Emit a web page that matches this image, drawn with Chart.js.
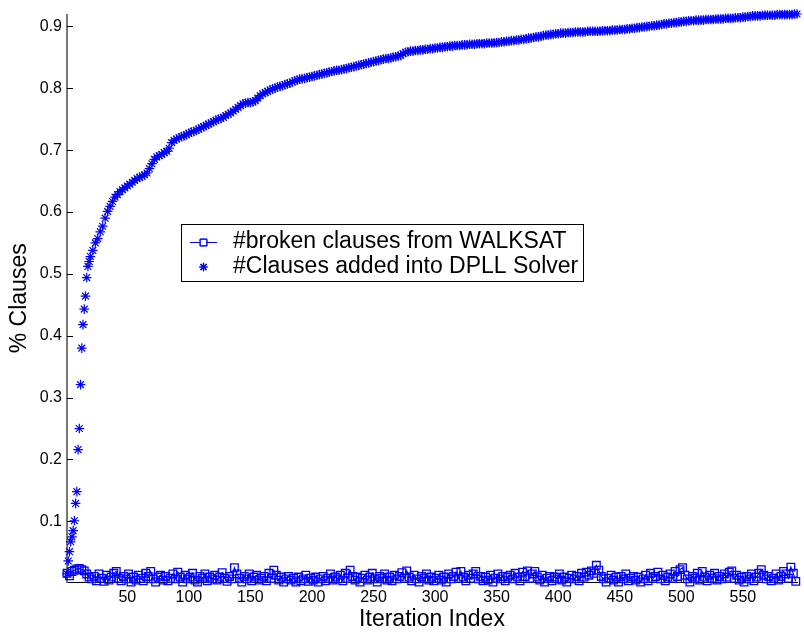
<!DOCTYPE html>
<html>
<head>
<meta charset="utf-8">
<title>% Clauses per iteration</title>
<script src="https://cdn.jsdelivr.net/npm/chart.js@4.4.0/dist/chart.umd.min.js"></script>
<style>
    html, body { margin: 0; padding: 0; background: #fff; }
    #wrap { width: 804px; height: 633px; }
</style>
</head>
<body>
<div id="wrap"><canvas id="clausesChart" width="804" height="633"></canvas></div>
<script>
// Tick labels
const xTickValues = [50, 100, 150, 200, 250, 300, 350, 400, 450, 500, 550];
const yTickValues = [0.1, 0.2, 0.3, 0.4, 0.5, 0.6, 0.7, 0.8, 0.9];

const seriesNames = ['#broken clauses from WALKSAT', '#Clauses added into DPLL Solver'];

// #Clauses added, iterations 1..20 (one value per iteration)
const addedEarly = [0.015, 0.036, 0.051, 0.067, 0.075, 0.085, 0.101, 0.129, 0.148, 0.216,
    0.250, 0.321, 0.380, 0.418, 0.443, 0.464, 0.494, 0.512, 0.520, 0.528];

// #Clauses added, iterations 22, 24, ..., 594
const addedLater = [
    0.538, 0.550, 0.557, 0.568, 0.577, 0.590, 0.601, 0.609, 0.617, 0.624,
    0.628, 0.633, 0.636, 0.639, 0.642, 0.645, 0.648, 0.651, 0.654, 0.656,
    0.658, 0.660, 0.663, 0.670, 0.678, 0.685, 0.689, 0.691, 0.693, 0.696,
    0.698, 0.703, 0.712, 0.716, 0.718, 0.720, 0.722, 0.723, 0.725, 0.727,
    0.729, 0.730, 0.732, 0.734, 0.736, 0.738, 0.740, 0.742, 0.744, 0.746,
    0.748, 0.750, 0.751, 0.753, 0.756, 0.758, 0.760, 0.763, 0.766, 0.769,
    0.772, 0.775, 0.776, 0.777, 0.777, 0.778, 0.780, 0.784, 0.788, 0.791,
    0.793, 0.795, 0.797, 0.799, 0.800, 0.802, 0.803, 0.804, 0.806, 0.807,
    0.808, 0.810, 0.812, 0.813, 0.815, 0.815, 0.816, 0.817, 0.818, 0.819,
    0.820, 0.821, 0.822, 0.823, 0.824, 0.825, 0.826, 0.827, 0.828, 0.829,
    0.829, 0.830, 0.831, 0.832, 0.833, 0.834, 0.835, 0.836, 0.837, 0.838,
    0.839, 0.840, 0.841, 0.842, 0.843, 0.844, 0.845, 0.846, 0.847, 0.848,
    0.848, 0.849, 0.850, 0.851, 0.852, 0.853, 0.856, 0.858, 0.859, 0.860,
    0.860, 0.861, 0.861, 0.862, 0.862, 0.863, 0.863, 0.864, 0.864, 0.865,
    0.865, 0.866, 0.866, 0.867, 0.867, 0.868, 0.868, 0.869, 0.869, 0.869,
    0.870, 0.870, 0.870, 0.871, 0.871, 0.871, 0.872, 0.872, 0.872, 0.872,
    0.873, 0.873, 0.873, 0.873, 0.874, 0.874, 0.875, 0.875, 0.876, 0.876,
    0.877, 0.877, 0.878, 0.878, 0.879, 0.879, 0.880, 0.881, 0.881, 0.882,
    0.883, 0.883, 0.884, 0.885, 0.886, 0.886, 0.887, 0.887, 0.888, 0.888,
    0.889, 0.889, 0.889, 0.890, 0.890, 0.890, 0.891, 0.891, 0.891, 0.891,
    0.891, 0.892, 0.892, 0.892, 0.892, 0.892, 0.892, 0.893, 0.893, 0.893,
    0.893, 0.894, 0.894, 0.894, 0.895, 0.895, 0.895, 0.896, 0.896, 0.897,
    0.897, 0.898, 0.898, 0.899, 0.899, 0.900, 0.900, 0.901, 0.901, 0.902,
    0.902, 0.903, 0.904, 0.904, 0.905, 0.905, 0.906, 0.906, 0.907, 0.907,
    0.908, 0.908, 0.909, 0.909, 0.909, 0.910, 0.910, 0.910, 0.910, 0.911,
    0.911, 0.911, 0.911, 0.912, 0.912, 0.912, 0.912, 0.913, 0.913, 0.913,
    0.913, 0.914, 0.914, 0.914, 0.915, 0.915, 0.916, 0.916, 0.917, 0.917,
    0.917, 0.917, 0.918, 0.918, 0.918, 0.918, 0.918, 0.918, 0.919, 0.919,
    0.919, 0.919, 0.919, 0.919, 0.919, 0.920, 0.920
];

// #broken clauses from WALKSAT, iterations 1, 3, ..., 593
const brokenValues = [
    0.016, 0.012, 0.019, 0.021, 0.023, 0.024, 0.022, 0.020, 0.015, 0.010,
    0.007, 0.011, 0.004, 0.015, 0.008, 0.003, 0.013, 0.005, 0.010, 0.016,
    0.019, 0.008, 0.004, 0.011, 0.007, 0.015, 0.002, 0.010, 0.005, 0.013,
    0.008, 0.004, 0.016, 0.011, 0.019, 0.007, 0.002, 0.010, 0.013, 0.005,
    0.011, 0.004, 0.008, 0.015, 0.007, 0.018, 0.010, 0.002, 0.013, 0.007,
    0.010, 0.016, 0.005, 0.002, 0.011, 0.008, 0.015, 0.004, 0.010, 0.007,
    0.013, 0.005, 0.010, 0.017, 0.008, 0.003, 0.011, 0.007, 0.025, 0.015,
    0.008, 0.002, 0.011, 0.007, 0.015, 0.004, 0.010, 0.013, 0.005, 0.008,
    0.011, 0.004, 0.016, 0.008, 0.021, 0.013, 0.005, 0.010, 0.002, 0.007,
    0.011, 0.005, 0.008, 0.002, 0.010, 0.004, 0.007, 0.013, 0.003, 0.008,
    0.005, 0.010, 0.002, 0.007, 0.011, 0.004, 0.008, 0.015, 0.005, 0.010,
    0.007, 0.013, 0.004, 0.016, 0.008, 0.021, 0.011, 0.005, 0.010, 0.002,
    0.008, 0.013, 0.005, 0.010, 0.016, 0.007, 0.002, 0.011, 0.008, 0.015,
    0.005, 0.010, 0.004, 0.013, 0.007, 0.011, 0.017, 0.008, 0.020, 0.010,
    0.004, 0.013, 0.007, 0.002, 0.011, 0.008, 0.015, 0.005, 0.010, 0.004,
    0.008, 0.013, 0.005, 0.010, 0.002, 0.015, 0.007, 0.011, 0.018, 0.008,
    0.019, 0.010, 0.004, 0.013, 0.008, 0.015, 0.019, 0.007, 0.011, 0.004,
    0.010, 0.005, 0.013, 0.002, 0.008, 0.015, 0.007, 0.011, 0.004, 0.010,
    0.013, 0.007, 0.016, 0.010, 0.004, 0.018, 0.011, 0.020, 0.008, 0.015,
    0.019, 0.010, 0.005, 0.013, 0.002, 0.008, 0.011, 0.004, 0.010, 0.007,
    0.015, 0.005, 0.010, 0.002, 0.008, 0.013, 0.007, 0.011, 0.004, 0.016,
    0.010, 0.018, 0.013, 0.020, 0.016, 0.029, 0.021, 0.011, 0.007, 0.002,
    0.008, 0.013, 0.005, 0.010, 0.002, 0.011, 0.007, 0.015, 0.004, 0.008,
    0.011, 0.005, 0.010, 0.002, 0.007, 0.013, 0.004, 0.016, 0.008, 0.011,
    0.018, 0.007, 0.013, 0.004, 0.010, 0.015, 0.008, 0.019, 0.011, 0.022,
    0.025, 0.013, 0.007, 0.002, 0.011, 0.008, 0.016, 0.005, 0.019, 0.010,
    0.004, 0.013, 0.008, 0.016, 0.005, 0.011, 0.007, 0.015, 0.010, 0.018,
    0.020, 0.008, 0.013, 0.005, 0.010, 0.002, 0.011, 0.007, 0.015, 0.004,
    0.010, 0.016, 0.022, 0.013, 0.007, 0.011, 0.004, 0.008, 0.015, 0.005,
    0.011, 0.019, 0.015, 0.008, 0.026, 0.016, 0.003
];

const BLUE = 'rgb(0, 0, 255)';
const FONT = "'Liberation Sans', Arial, Helvetica, sans-serif";

// iteration index of each value: early stars one per step, the rest every 2 iterations
const addedPoints = addedEarly.map((v, i) => ({ x: i + 1, y: v }))
    .concat(addedLater.map((v, i) => ({ x: 22 + 2 * i, y: v })));
const brokenPoints = brokenValues.map((v, i) => ({ x: 1 + 2 * i, y: v }));

// MATLAB style ticks pointing into the plot
const insideTicks = {
    id: 'insideTicks',
    beforeDatasetsDraw(chart) {
        const { ctx, chartArea: a, scales: { x, y } } = chart;
        ctx.save();
        ctx.strokeStyle = '#000';
        ctx.lineWidth = 1;
        ctx.beginPath();
        xTickValues.forEach(v => {
            const px = Math.round(x.getPixelForValue(v)) + 0.5;
            ctx.moveTo(px, a.bottom);
            ctx.lineTo(px, a.bottom - 6);
        });
        yTickValues.forEach(v => {
            const py = Math.round(y.getPixelForValue(v)) + 0.5;
            ctx.moveTo(a.left, py);
            ctx.lineTo(a.left + 6, py);
        });
        ctx.stroke();
        ctx.restore();
    }
};

// boxed legend floating inside the axes
const boxLegend = {
    id: 'boxLegend',
    afterDraw(chart) {
        const { ctx } = chart;
        const box = { x: 181.5, y: 224.5, w: 402, h: 57 };
        const rows = [242, 267];
        ctx.save();
        ctx.fillStyle = '#fff';
        ctx.fillRect(box.x, box.y, box.w, box.h);
        ctx.strokeStyle = '#000';
        ctx.lineWidth = 1;
        ctx.strokeRect(box.x, box.y, box.w, box.h);

        ctx.strokeStyle = BLUE;
        ctx.beginPath();
        ctx.moveTo(190, rows[0] + 0.5);
        ctx.lineTo(217, rows[0] + 0.5);
        ctx.stroke();
        Chart.helpers.drawPoint(ctx, { pointStyle: 'rect', radius: 4.8, borderWidth: 1 }, 203.5, rows[0] + 0.5);
        ctx.stroke();
        ctx.lineWidth = 1.2;
        Chart.helpers.drawPoint(ctx, { pointStyle: 'star', radius: 4.2, borderWidth: 1.2 }, 203.5, rows[1]);
        ctx.stroke();

        ctx.fillStyle = '#000';
        ctx.font = '23px ' + FONT;
        ctx.textBaseline = 'middle';
        ctx.textAlign = 'left';
        ctx.fillText(seriesNames[0], 233, rows[0]);
        ctx.fillText(seriesNames[1], 233, rows[1]);
        ctx.restore();
    }
};

Chart.defaults.font.family = FONT;
Chart.defaults.color = '#000';

const ctx = document.getElementById('clausesChart').getContext('2d');
new Chart(ctx, {
    type: 'scatter',
    data: {
        datasets: [
            {
                label: seriesNames[0],
                data: brokenPoints,
                showLine: true,
                borderColor: BLUE,
                borderWidth: 1.2,
                pointStyle: 'rect',
                pointRadius: 5.4,
                pointBorderWidth: 1.3,
                pointBorderColor: BLUE,
                pointBackgroundColor: 'rgba(0, 0, 0, 0)',
                clip: false,
                order: 2
            },
            {
                label: seriesNames[1],
                data: addedPoints,
                showLine: false,
                pointStyle: 'star',
                pointRadius: 4.8,
                pointBorderWidth: 1.2,
                pointBorderColor: BLUE,
                pointBackgroundColor: BLUE,
                clip: false,
                order: 1
            }
        ]
    },
    options: {
        responsive: false,
        animation: false,
        events: [],
        layout: { padding: { top: 7, right: 7, left: 0, bottom: 0 } },
        plugins: {
            legend: { display: false },
            tooltip: { enabled: false }
        },
        scales: {
            x: {
                type: 'linear',
                min: 1,
                max: 594,
                afterBuildTicks: scale => { scale.ticks = xTickValues.map(v => ({ value: v })); },
                afterFit: scale => { scale.height = 51; },
                grid: { display: false, drawTicks: false },
                border: { display: true, color: '#000', width: 1 },
                ticks: {
                    autoSkip: false,
                    maxRotation: 0,
                    padding: 6,
                    font: { size: 16 },
                    callback: value => String(value)
                },
                title: {
                    display: true,
                    text: 'Iteration Index',
                    font: { size: 23 },
                    padding: { top: 0, bottom: 0 }
                }
            },
            y: {
                type: 'linear',
                min: 0.002,
                max: 0.919,
                afterBuildTicks: scale => { scale.ticks = yTickValues.map(v => ({ value: v })); },
                afterFit: scale => { scale.width = 67; },
                grid: { display: false, drawTicks: false },
                border: { display: true, color: '#777', width: 2 },
                ticks: {
                    autoSkip: false,
                    padding: 5,
                    font: { size: 16 },
                    callback: value => value.toFixed(1)
                },
                title: {
                    display: true,
                    text: '% Clauses',
                    font: { size: 23 },
                    padding: { top: 6, bottom: 0 }
                }
            }
        }
    },
    plugins: [insideTicks, boxLegend]
});
</script>
</body>
</html>
